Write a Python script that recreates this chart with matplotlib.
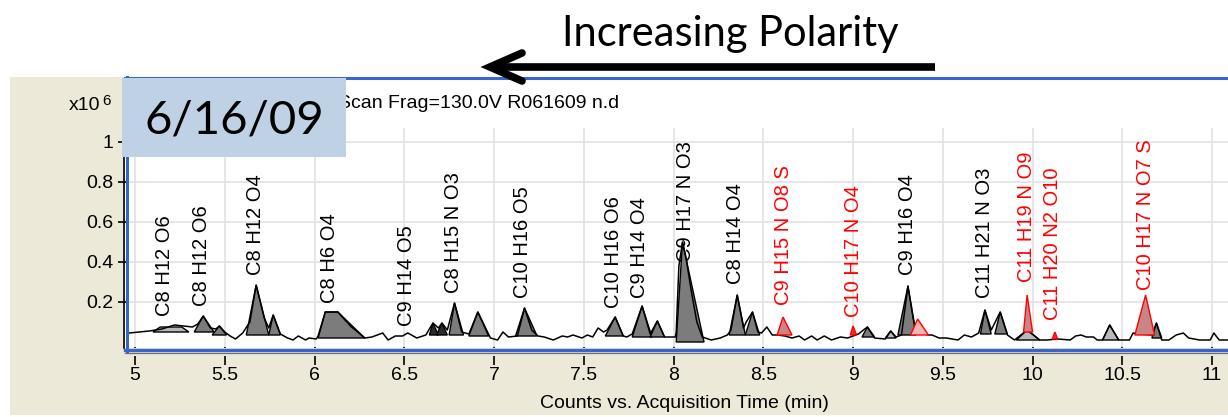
import matplotlib
matplotlib.use("Agg")
import matplotlib.pyplot as plt
from matplotlib.patches import Rectangle, Polygon
from matplotlib.lines import Line2D

W, H, DPI = 1228, 417, 100

# ---- total ion chromatogram (time in min, counts in 1e6) ----
trace_time = [
    4.96, 4.97, 5.00, 5.08, 5.15, 5.22, 5.27, 5.32, 5.35, 5.38,
    5.42, 5.45, 5.47, 5.50, 5.53, 5.56, 5.60, 5.64, 5.675, 5.72,
    5.745, 5.77, 5.81, 5.85, 5.88, 5.91, 5.95, 5.97, 6.01, 6.02,
    6.06, 6.13, 6.20, 6.28, 6.32, 6.35, 6.38, 6.41, 6.45, 6.49,
    6.52, 6.57, 6.62, 6.66, 6.69, 6.71, 6.74, 6.78, 6.82, 6.86,
    6.91, 6.98, 7.02, 7.05, 7.08, 7.13, 7.17, 7.21, 7.245, 7.28,
    7.33, 7.38, 7.41, 7.44, 7.49, 7.52, 7.55, 7.58, 7.61, 7.63,
    7.675, 7.72, 7.74, 7.77, 7.825, 7.87, 7.91, 7.95, 8.01, 8.015,
    8.03, 8.05, 8.07, 8.10, 8.13, 8.16, 8.21, 8.26, 8.30, 8.32,
    8.355, 8.39, 8.405, 8.44, 8.47, 8.49, 8.52, 8.55, 8.58, 8.62,
    8.66, 8.70, 8.73, 8.77, 8.80, 8.84, 8.88, 8.93, 8.97, 9.00,
    9.03, 9.08, 9.12, 9.18, 9.21, 9.24, 9.27, 9.306, 9.34, 9.36,
    9.42, 9.44, 9.48, 9.52, 9.585, 9.62, 9.66, 9.70, 9.735, 9.77,
    9.82, 9.86, 9.90, 9.97, 10.04, 10.08, 10.14, 10.21, 10.24, 10.27,
    10.30, 10.34, 10.36, 10.39, 10.43, 10.48, 10.54, 10.56, 10.60, 10.665,
    10.69, 10.72, 10.76, 10.80, 10.84, 10.87, 10.93, 10.99, 11.01, 11.04,
    11.09,
]
trace_counts = [
    0.045, 0.045, 0.048, 0.055, 0.065, 0.085, 0.08, 0.075, 0.09, 0.13,
    0.07, 0.065, 0.08, 0.05, 0.03, 0.015, 0.045, 0.10, 0.285, 0.12,
    0.07, 0.135, 0.04, 0.02, 0.01, 0.03, 0.01, 0.02, 0.015, 0.03,
    0.15, 0.15, 0.08, 0.02, 0.025, 0.035, 0.045, 0.01, 0.03, 0.03,
    0.045, 0.02, 0.035, 0.095, 0.07, 0.095, 0.06, 0.195, 0.05, 0.04,
    0.15, 0.02, 0.01, 0.05, 0.025, 0.03, 0.17, 0.06, 0.03, 0.025,
    0.01, 0.03, 0.025, 0.035, 0.02, 0.035, 0.025, 0.07, 0.05, 0.06,
    0.125, 0.03, 0.025, 0.04, 0.18, 0.04, 0.105, 0.025, 0.025, 0.05,
    0.38, 0.50, 0.42, 0.25, 0.10, 0.025, 0.01, 0.02, 0.035, 0.06,
    0.235, 0.07, 0.10, 0.15, 0.05, 0.045, 0.075, 0.035, 0.035, 0.03,
    0.02, 0.03, 0.01, 0.03, 0.01, 0.03, 0.01, 0.025, 0.02, 0.03,
    0.04, 0.075, 0.02, 0.015, 0.055, 0.025, 0.035, 0.28, 0.10, 0.05,
    0.035, 0.035, 0.02, 0.02, 0.01, 0.035, 0.025, 0.045, 0.16, 0.06,
    0.15, 0.035, 0.01, 0.06, 0.01, 0.01, 0.015, 0.01, 0.03, 0.035,
    0.025, 0.025, 0.01, 0.01, 0.085, 0.01, 0.01, 0.045, 0.04, 0.035,
    0.095, 0.01, 0.01, 0.035, 0.045, 0.02, 0.01, 0.01, 0.045, 0.01,
    0.01,
]

# ---- integrated peaks ----
peak_start = [5.10, 5.33, 5.43, 5.62, 5.745, 6.02, 6.64, 6.68, 6.75, 6.86,
              7.12, 7.62, 7.77, 7.87, 8.015, 8.31, 8.40, 9.05, 9.18, 9.25,
              9.71, 9.79, 9.91, 10.39, 10.665,
              8.577, 8.985, 9.32, 9.95, 10.11, 10.57]
peak_apex = [5.20, 5.38, 5.47, 5.675, 5.77, 6.095, 6.66, 6.71, 6.78, 6.91,
             7.17, 7.675, 7.825, 7.91, 8.05, 8.355, 8.44, 9.08, 9.21, 9.306,
             9.735, 9.82, 9.97, 10.43, 10.69,
             8.61, 9.00, 9.36, 9.97, 10.125, 10.63]
peak_end = [5.30, 5.44, 5.51, 5.745, 5.81, 6.28, 6.69, 6.74, 6.83, 6.97,
            7.24, 7.72, 7.88, 7.95, 8.17, 8.40, 8.48, 9.12, 9.24, 9.35,
            9.77, 9.86, 10.04, 10.48, 10.72,
            8.66, 9.02, 9.42, 10.00, 10.14, 10.68]
peak_height = [0.075, 0.13, 0.08, 0.285, 0.135, 0.15, 0.095, 0.095, 0.195, 0.15,
               0.17, 0.125, 0.18, 0.105, 0.50, 0.235, 0.15, 0.075, 0.055, 0.28,
               0.16, 0.15, 0.06, 0.085, 0.095,
               0.125, 0.08, 0.115, 0.235, 0.05, 0.235]
peak_base = [0.05, 0.05, 0.035, 0.035, 0.035, 0.02, 0.035, 0.035, 0.035, 0.03,
             0.03, 0.03, 0.025, 0.025, 0.0, 0.035, 0.035, 0.025, 0.02, 0.035,
             0.04, 0.04, 0.01, 0.01, 0.02,
             0.035, 0.035, 0.035, 0.05, 0.015, 0.035]
peak_plateau = [0.12, 0, 0, 0, 0, 0.07, 0, 0, 0, 0,
                0, 0, 0, 0, 0, 0, 0, 0, 0, 0,
                0, 0, 0, 0, 0,
                0, 0, 0, 0, 0, 0]
peak_group = ["minor", "found", "found", "found", "found", "found", "dense", "dense", "found", "found",
              "found", "found", "found", "found", "found", "found", "found", "found", "minor", "found",
              "found", "found", "minor", "minor", "found",
              "target", "target_small", "target_faint", "target", "target_small", "target"]

# ---- formula annotations ----
label_text = ["C8 H12 O6", "C8 H12 O6", "C8 H12 O4", "C8 H6 O4", "C9 H14 O5",
              "C8 H15 N O3", "C10 H16 O5", "C10 H16 O6", "C9 H14 O4", "C9 H17 N O3",
              "C8 H14 O4", "C9 H15 N O8 S", "C10 H17 N O4", "C9 H16 O4", "C11 H21 N O3",
              "C11 H19 N O9", "C11 H20 N2 O10", "C10 H17 N O7 S"]
label_time = [5.167, 5.368, 5.669, 6.086, 6.515,
              6.772, 7.156, 7.663, 7.813, 8.064,
              8.348, 8.61, 9.0, 9.306, 9.735,
              9.964, 10.109, 10.627]
label_level = [0.13, 0.18, 0.335, 0.195, 0.08,
               0.245, 0.22, 0.17, 0.22, 0.40,
               0.29, 0.185, 0.125, 0.335, 0.22,
               0.30, 0.11, 0.26]
label_group = ["found"] * 11 + ["target", "target", "found", "found", "target", "target", "target"]

x_ticks = [5, 5.5, 6, 6.5, 7, 7.5, 8, 8.5, 9, 9.5, 10, 10.5, 11]
x_tick_labels = ["5", "5.5", "6", "6.5", "7", "7.5", "8", "8.5", "9", "9.5", "10", "10.5", "11"]
y_ticks = [0.2, 0.4, 0.6, 0.8, 1.0]
y_tick_labels = ["0.2", "0.4", "0.6", "0.8", "1"]

x_title = "Counts vs. Acquisition Time (min)"
header = "Scan Frag=130.0V R061609 n.d"
run_date = "6/16/09"
trend = "Increasing Polarity"

# ---- look ----
UI = "Liberation Sans"
DECO = "Lato"
BEIGE = "#ece9d8"
FRAME = "#3767c8"
group_face = {"found": "#7c7c7c", "dense": "#2c2c2c", "minor": "#b9b9b9",
              "target": "#c98484", "target_small": "#ff2a2a", "target_faint": "#f3b4b4"}
group_edge = {"found": "black", "dense": "black", "minor": "black",
              "target": "#ff0000", "target_small": "#ff0000", "target_faint": "#ff0000"}
label_color = {"found": "black", "target": "#ff0000"}


def fx(px):
    return px / W


def fy(py):
    return 1 - py / H


fig = plt.figure(figsize=(W / DPI, H / DPI), dpi=DPI, facecolor="white")

# window background and plot frame
fig.patches.append(Rectangle((fx(10), fy(415)), fx(1228) - fx(10), fy(77) - fy(415),
                             transform=fig.transFigure, facecolor=BEIGE, edgecolor="none", zorder=-3))
fig.patches.append(Rectangle((fx(125), fy(350)), fx(1228) - fx(125), fy(77) - fy(350),
                             transform=fig.transFigure, facecolor="white", edgecolor="none", zorder=-2))

ax = fig.add_axes([fx(128), fy(347), fx(1228) - fx(128), fy(128) - fy(347)])
ax.set_facecolor("white")
ax.set_xlim(4.961, 11.089)
ax.set_ylim(-0.025, 1.07)
for s in ax.spines.values():
    s.set_visible(False)

ax.set_xticks(x_ticks)
ax.set_xticklabels(x_tick_labels, fontfamily=UI, fontsize=14)
ax.set_yticks(y_ticks)
ax.set_yticklabels(y_tick_labels, fontfamily=UI, fontsize=14)
ax.tick_params(axis="x", direction="out", length=13, width=1.2, pad=1.5, color="black")
ax.tick_params(axis="y", direction="out", length=7.5, width=1.2, pad=2.8, color="black")
ax.grid(True, color="#e2e2e2", linewidth=1.2)
ax.set_axisbelow(True)

# formula labels (drawn beneath the peaks)
for txt, t, lv, g in zip(label_text, label_time, label_level, label_group):
    ax.text(t, lv, txt, rotation=90, ha="center", va="bottom", fontsize=14.5,
            family=UI, color=label_color[g], zorder=2)

# integrated peak areas
for st, ap, en, hgt, bs, pl, g in zip(peak_start, peak_apex, peak_end, peak_height,
                                       peak_base, peak_plateau, peak_group):
    if pl > 0:
        verts = [(st, bs), (ap - pl / 2, hgt), (ap + pl / 2, hgt), (en, bs)]
    else:
        verts = [(st, bs), (ap, hgt), (en, bs)]
    z = 3.5 if g.startswith("target") else 3
    ax.add_patch(Polygon(verts, closed=True, facecolor=group_face[g],
                         edgecolor=group_edge[g], linewidth=1.0, zorder=z))

ax.plot(trace_time, trace_counts, color="black", linewidth=1.1, zorder=3.2)

# frame edges over the plot
fig.patches.append(Rectangle((fx(125), fy(356)), fx(1228) - fx(125), fy(347.5) - fy(356),
                             transform=fig.transFigure, facecolor=BEIGE, edgecolor="none", zorder=1))
fig.lines.append(Line2D([fx(125), fx(1228)], [fy(78), fy(78)], transform=fig.transFigure,
                        color=FRAME, linewidth=2.2, zorder=2))
fig.lines.append(Line2D([fx(125), fx(1228)], [fy(349.5), fy(349.5)], transform=fig.transFigure,
                        color=FRAME, linewidth=2.4, zorder=2))
fig.lines.append(Line2D([fx(125), fx(1228)], [fy(352.8), fy(352.8)], transform=fig.transFigure,
                        color="#6f6f6f", linewidth=0.9, zorder=2))
fig.lines.append(Line2D([fx(126.6), fx(126.6)], [fy(77), fy(351)], transform=fig.transFigure,
                        color=FRAME, linewidth=2.2, zorder=2))
fig.lines.append(Line2D([fx(124.3), fx(124.3)], [fy(128), fy(348)], transform=fig.transFigure,
                        color="black", linewidth=1.2, zorder=2))

# axis captions
fig.text(fx(684), fy(403), x_title, ha="center", va="center", fontsize=14, family=UI, zorder=3)
fig.text(fx(100), fy(106), "x10", ha="right", va="center", fontsize=14, family=UI, zorder=3)
fig.text(fx(102), fy(101), "6", ha="left", va="center", fontsize=11, family=UI, zorder=3)
fig.text(fx(338), fy(104), header, ha="left", va="center", fontsize=14, family=UI, zorder=3)

# date tag
fig.patches.append(Rectangle((fx(122), fy(157)), fx(346) - fx(122), fy(78) - fy(157),
                             transform=fig.transFigure, facecolor="#bfd1e4", edgecolor="none", zorder=5))
fig.text(fx(234), fy(120), run_date, ha="center", va="center", fontsize=34, family=DECO,
         color="black", zorder=6)

# polarity trend arrow
fig.text(fx(730), fy(46), trend, ha="center", va="baseline", fontsize=30, family=DECO,
         color="black", zorder=6)
fig.lines.append(Line2D([fx(935), fx(492)], [fy(67), fy(67)], transform=fig.transFigure,
                        color="black", linewidth=5.5, solid_capstyle="butt", zorder=6))
fig.lines.append(Line2D([fx(522), fx(490), fx(522)], [fy(53), fy(67), fy(81)],
                        transform=fig.transFigure, color="black", linewidth=5.5,
                        solid_capstyle="round", solid_joinstyle="miter", zorder=6))

fig.savefig("out.png", dpi=DPI, facecolor="white")
